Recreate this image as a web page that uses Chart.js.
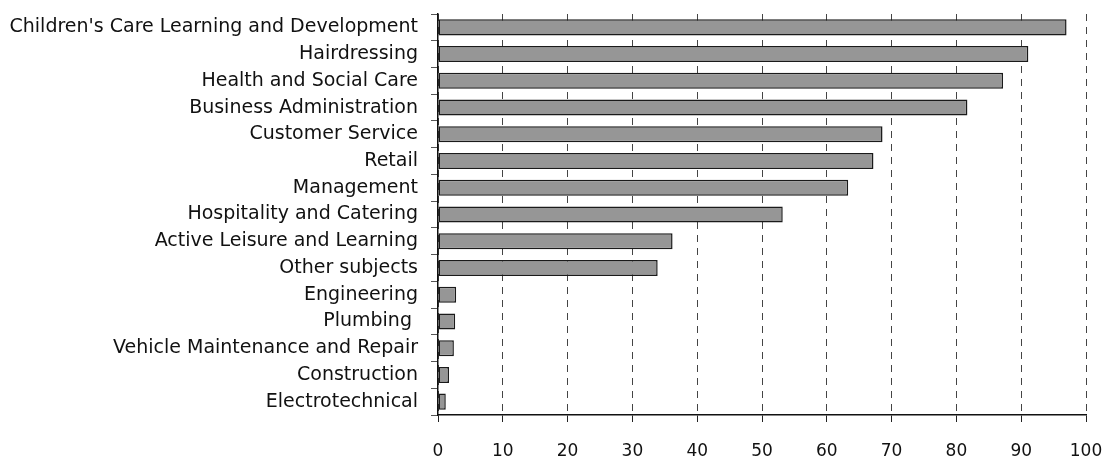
<!DOCTYPE html>
<html>
<head>
<meta charset="utf-8">
<script src="https://cdn.jsdelivr.net/npm/chart.js@4/dist/chart.umd.min.js"></script>
<style>
  html,body{margin:0;padding:0;background:#fff;}
  #wrap{width:1103px;height:458px;position:relative;}
</style>
</head>
<body>
<div id="wrap"><canvas id="chart" width="1103" height="458"></canvas></div>
<script>
const subjects=["Children's Care Learning and Development","Hairdressing","Health and Social Care","Business Administration","Customer Service","Retail","Management","Hospitality and Catering","Active Leisure and Learning","Other subjects","Engineering","Plumbing ","Vehicle Maintenance and Repair","Construction","Electrotechnical"];
const percentages=[97.0,91.1,87.2,81.7,68.6,67.2,63.3,53.2,36.2,33.9,2.8,2.65,2.45,1.7,1.2];
const xTicks=[0,10,20,30,40,50,60,70,80,90,100];

const ctx=document.getElementById("chart").getContext("2d");
new Chart(ctx,{
  type:"bar",
  data:{
    labels:subjects,
    datasets:[{
      data:percentages,
      backgroundColor:"#969696",
      borderColor:"#1a1a1a",
      borderWidth:1.5,
      borderSkipped:false,
      barPercentage:0.6,
      categoryPercentage:1
    }]
  },
  options:{
    indexAxis:"y",
    responsive:false,
    animation:false,
    layout:{padding:{top:14,right:17,left:0,bottom:0}},
    plugins:{legend:{display:false},tooltip:{enabled:false}},
    scales:{
      x:{
        min:0,max:100,
        afterBuildTicks:s=>{s.ticks=xTicks.map(v=>({value:v}));},
        afterFit:s=>{s.height=43;s.paddingLeft=0;s.paddingRight=0;},
        grid:{color:"#444",tickColor:"#222",tickLength:7,lineWidth:1},
        border:{display:true,color:"#111",width:1.5,dash:[7,6]},
        ticks:{color:"#111",padding:19,font:{family:"DejaVu Sans",size:17}}
      },
      y:{
        afterFit:s=>{s.width=438;s.paddingTop=0;s.paddingBottom=0;},
        grid:{offset:true,drawOnChartArea:false,tickLength:7,color:"#555"},
        border:{display:true,color:"#111",width:1.5},
        ticks:{color:"#111",padding:13,font:{family:"DejaVu Sans",size:19}}
      }
    }
  }
});
</script>
</body>
</html>
